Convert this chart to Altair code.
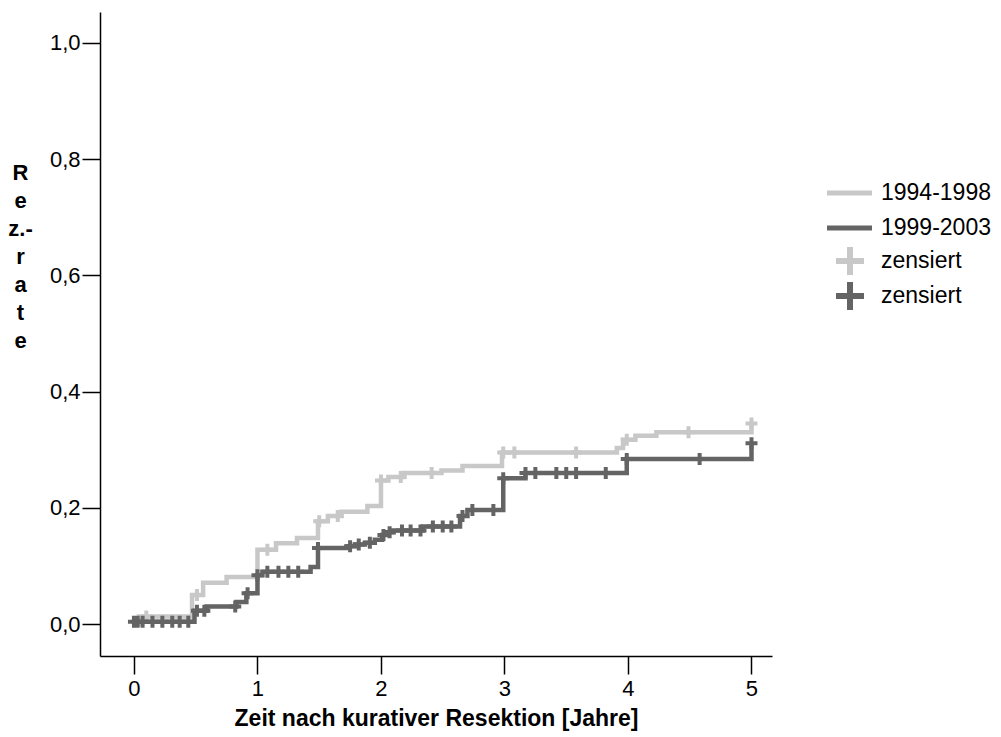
import altair as alt
import pandas as pd

# ---- data ----
light_t = [0, 0.04, 0.47, 0.56, 0.75, 1.0, 1.15, 1.32, 1.49, 1.57, 1.68, 1.89, 2.0, 2.06,
           2.18, 2.49, 2.66, 2.98, 3.91, 3.96, 4.06, 4.23, 5.0]
light_v = [0, 0.013, 0.05, 0.071, 0.081, 0.128, 0.139, 0.148, 0.177, 0.186, 0.193, 0.203,
           0.247, 0.253, 0.26, 0.264, 0.272, 0.295, 0.303, 0.317, 0.324, 0.33, 0.345]

dark_t = [0, 0.49, 0.59, 0.83, 0.91, 1.0, 1.04, 1.43, 1.49, 1.73, 1.79, 1.87, 1.95, 2.01,
          2.04, 2.1, 2.34, 2.64, 2.70, 2.99, 3.17, 3.99, 5.0]
dark_v = [0.004, 0.023, 0.030, 0.038, 0.053, 0.084, 0.090, 0.098, 0.131, 0.134, 0.137, 0.14,
          0.145, 0.153, 0.158, 0.161, 0.168, 0.186, 0.196, 0.251, 0.26, 0.284, 0.311]

light_cens_t = [0.1, 0.51, 1.08, 1.50, 1.65, 2.0, 2.16, 2.41, 2.99, 3.08, 3.58, 3.99, 4.49, 5.0]
light_cens_v = [0.013, 0.05, 0.128, 0.177, 0.186, 0.247, 0.253, 0.26, 0.295, 0.295, 0.295,
                0.317, 0.33, 0.345]

dark_cens_t = [0.0, 0.03, 0.07, 0.15, 0.23, 0.31, 0.37, 0.44, 0.51, 0.57, 0.82, 0.92, 1.0,
               1.08, 1.17, 1.25, 1.33, 1.49, 1.75, 1.82, 1.91, 2.02, 2.07, 2.17, 2.24, 2.32,
               2.42, 2.50, 2.57, 2.66, 2.74, 2.91, 2.99, 3.17, 3.25, 3.42, 3.50, 3.58, 3.82,
               3.99, 4.58, 5.0]
dark_cens_v = [0.004, 0.004, 0.004, 0.004, 0.004, 0.004, 0.004, 0.004, 0.023, 0.023, 0.030,
               0.053, 0.084, 0.090, 0.090, 0.090, 0.090, 0.131, 0.134, 0.137, 0.14, 0.153,
               0.158, 0.161, 0.161, 0.161, 0.168, 0.168, 0.168, 0.186, 0.196, 0.196, 0.251,
               0.26, 0.26, 0.26, 0.26, 0.26, 0.26, 0.284, 0.284, 0.311]

legend_labels = ["1994-1998", "1999-2003", "zensiert", "zensiert"]
x_ticks = [0, 1, 2, 3, 4, 5]
y_ticks = [0, 0.2, 0.4, 0.6, 0.8, 1.0]
x_title = "Zeit nach kurativer Resektion [Jahre]"
y_title = ["R", "e", "z.-", "r", "a", "t", "e"]

# ---- style ----
LIGHT = "#c8c8c8"
DARK = "#646464"
FONT = "Liberation Sans"
CROSS = "M-1,0L1,0M0,-1L0,1"

light_df = pd.DataFrame({"t": light_t, "v": light_v})
dark_df = pd.DataFrame({"t": dark_t, "v": dark_v})
light_c = pd.DataFrame({"t": light_cens_t, "v": light_cens_v})
dark_c = pd.DataFrame({"t": dark_cens_t, "v": dark_cens_v})

xs = alt.Scale(domain=[-0.275, 5.166], nice=False, zero=False)
ys = alt.Scale(domain=[-0.055, 1.053], nice=False, zero=False)

x_axis = alt.Axis(values=x_ticks, format="d", title=x_title, grid=False,
                  tickSize=18, tickWidth=1.5, tickColor="black",
                  domainColor="black", domainWidth=1.5,
                  labelFont=FONT, labelFontSize=22, labelColor="black", labelPadding=4,
                  labelFlush=False,
                  titleFont=FONT, titleFontSize=23, titleFontWeight="bold", titleColor="black",
                  titleY=62, titleBaseline="middle")
y_axis = alt.Axis(values=y_ticks, labelExpr="replace(format(datum.value, '.1f'), '.', ',')",
                  title=y_title, titleAngle=0, titleX=-80, titleY=150, titleAlign="center",
                  titleBaseline="top", titleLineHeight=28,
                  titleFont=FONT, titleFontSize=22, titleFontWeight="bold", titleColor="black",
                  grid=False, tickSize=18, tickWidth=1.5, tickColor="black",
                  domainColor="black", domainWidth=1.5,
                  labelFont=FONT, labelFontSize=22, labelColor="black", labelPadding=2,
                  labelFlush=False)

X = alt.X("t:Q", scale=xs, axis=x_axis)
Y = alt.Y("v:Q", scale=ys, axis=y_axis)


def step_line(df, color):
    return alt.Chart(df).mark_line(interpolate="step-after", strokeWidth=4.5, color=color,
                                   strokeJoin="miter").encode(x=X, y=Y)


def censors(df, color):
    return alt.Chart(df).mark_point(shape=CROSS, filled=False, size=144, strokeWidth=4,
                                    color=color, opacity=1).encode(x=X, y=Y)


layers = [step_line(light_df, LIGHT), censors(light_c, LIGHT),
          step_line(dark_df, DARK), censors(dark_c, DARK)]

# ---- manual legend ----
leg_y = [181, 216, 249, 284]
leg_kind = ["line", "line", "cross", "cross"]
leg_col = [LIGHT, DARK, LIGHT, DARK]
one = alt.Data(values=[{"a": 1}])
for lab, kind, col, py in zip(legend_labels, leg_kind, leg_col, leg_y):
    if kind == "line":
        layers.append(alt.Chart(one).mark_rule(strokeWidth=5, color=col).encode(
            x=alt.value(727), x2=alt.value(772), y=alt.value(py)))
    else:
        layers.append(alt.Chart(one).mark_point(shape=CROSS, filled=False, size=784,
                                                strokeWidth=6, color=col, opacity=1).encode(
            x=alt.value(750), y=alt.value(py)))
    layers.append(alt.Chart(one).mark_text(align="left", baseline="middle", font=FONT,
                                           fontSize=23, color="black").encode(
        x=alt.value(781), y=alt.value(py), text=alt.value(lab)))

chart = alt.layer(*layers).properties(
    width=672, height=644,
    autosize=alt.AutoSizeParams(type="none"),
    padding={"left": 100, "top": 12, "right": 229, "bottom": 81},
    background="white",
).configure_view(strokeWidth=0)

chart.save("out.html", embed_options={"renderer": "svg", "actions": False})
